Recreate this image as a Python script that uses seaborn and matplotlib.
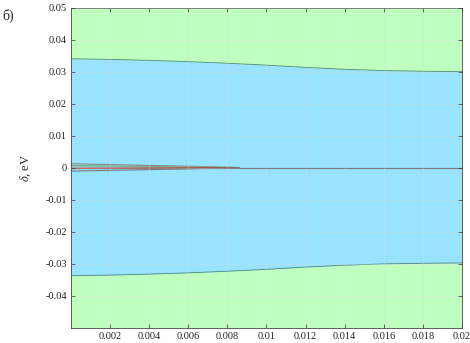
import numpy as np
import pandas as pd
import matplotlib
matplotlib.use("Agg")
import matplotlib.pyplot as plt
import seaborn as sns

# boundary of the stable (blue) region
x_bound = [0.0, 0.002, 0.004, 0.006, 0.008, 0.010, 0.012, 0.014, 0.016, 0.018, 0.020]
upper = [0.0340, 0.0338, 0.0335, 0.0331, 0.0326, 0.0320, 0.0313, 0.0307, 0.0303, 0.0301, 0.0300]
lower = [-0.0338, -0.0336, -0.0333, -0.0329, -0.0324, -0.0318, -0.0311, -0.0305, -0.0301, -0.0299, -0.0298]

# thin wedge of curves near zero
x_wedge = [0.0, 0.0061, 0.0086]
wedge_gray_top = [0.0012, 0.0004, 0.0]
wedge_green = [0.0006, 0.0002, 0.0]
wedge_gray_mid = [0.0001, 0.0001, 0.0]
wedge_red = [-0.0003, -0.0001, 0.0]
wedge_gray_bot = [-0.0011, -0.0004, 0.0]
x_axis_line = [0.0, 0.02]
zero_line = [0.0, 0.0]

xticks = [0.002, 0.004, 0.006, 0.008, 0.01, 0.012, 0.014, 0.016, 0.018, 0.02]
xtick_labels = ["0.002", "0.004", "0.006", "0.008", "0.01", "0.012", "0.014", "0.016", "0.018", "0.02"]
yticks = [-0.04, -0.03, -0.02, -0.01, 0, 0.01, 0.02, 0.03, 0.04, 0.05]
ytick_labels = ["-0.04", "-0.03", "-0.02", "-0.01", "0", "0.01", "0.02", "0.03", "0.04", "0.05"]

sns.set_style("ticks")
plt.rcParams['font.family'] = ['Liberation Serif', 'DejaVu Serif']
plt.rcParams['mathtext.fontset'] = 'stix'

fig = plt.figure(figsize=(4.7, 3.43), dpi=100)
ax = fig.add_axes([0.151, 0.045, 0.832, 0.933])

green = "#bfffbf"
blue = "#99e3ff"
ax.fill_between([0, 0.02], -0.05, 0.05, color=green, lw=0)
ax.fill_between(x_bound, lower, upper, color=blue, lw=0)

bound = pd.DataFrame({"x": x_bound + x_bound,
                      "y": upper + lower,
                      "side": ["up"] * len(x_bound) + ["low"] * len(x_bound)})
sns.lineplot(data=bound, x="x", y="y", units="side", estimator=None,
             color="#4a8a7a", lw=0.6, ax=ax)

sns.lineplot(x=x_axis_line, y=zero_line, color="#555555", lw=0.8, ax=ax)
for ys, col in [(wedge_gray_top, "#8a8a8a"), (wedge_green, "#6aa86a"),
                (wedge_gray_mid, "#aaaaaa"), (wedge_red, "#b04030"),
                (wedge_gray_bot, "#7a7a7a")]:
    sns.lineplot(x=x_wedge, y=ys, color=col, lw=0.8, ax=ax)

ax.set_xlim(0, 0.02)
ax.set_ylim(-0.05, 0.05)
ax.set_xticks(xticks)
ax.set_xticklabels(xtick_labels)
ax.set_yticks(yticks)
ax.set_yticklabels(ytick_labels)
ax.grid(True, color="#dddddd", alpha=0.35, lw=0.6)
ax.set_axisbelow(False)
ax.tick_params(direction="in", length=3, labelsize=7.5, right=True, top=True,
               color="#333333", width=0.5, labelcolor="#222222", pad=3)
for sp in ax.spines.values():
    sp.set_color("#444444")
    sp.set_linewidth(0.6)
ax.set_xlabel("")
ax.set_ylabel(r"$\delta$, eV", fontsize=9, labelpad=9)

fig.text(0.005, 0.975, "б)", fontsize=10, va="top", ha="left")

fig.savefig("out.png", dpi=100)
